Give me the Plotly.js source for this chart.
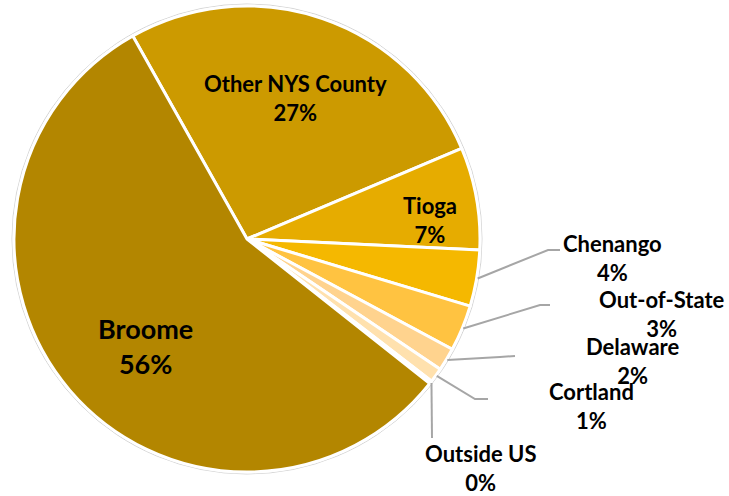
<!DOCTYPE html>
<html>
<head>
<meta charset="utf-8">
<script src="https://cdn.plot.ly/plotly-3.0.1.min.js"></script>
<style>html,body{margin:0;padding:0;background:#fff;}#chart{width:729px;height:496px;}</style>
</head>
<body>
<div id="chart"></div>
<script>
// ---- data ----
const labels = ["Other NYS County", "Tioga", "Chenango", "Out-of-State", "Delaware", "Cortland", "Outside US", "Broome"];
const values = [26.8, 7.1, 3.9, 3.2, 1.6, 1.0, 0.2, 56.2];
const colors = ["#CC9A00", "#E6AC00", "#F5B800", "#FFC341", "#FFD38E", "#FFE1AE", "#FFEBC8", "#B38600"];

// ---- layout config (pixels) ----
const W = 729, H = 496;
const cx = 247, cy = 239, R = 233;
const rotation = -29.35;
// label block centres
const labelPos = [[295, 98], [430, 220], [612, 258], [662, 314], [632, 361], [591, 406], [480, 468], [145, 346]];
const labelSize = [22, 22, 22, 22, 22, 22, 22, 27];
// leader-line elbow & end points (null = inside label)
const leader = [null, null,
  [[548, 250], [560, 250]],
  [[540, 305], [550, 305]],
  [[500, 357], [515, 356]],
  [[475, 399], [488, 399]],
  [[432, 438]],
  null];

const px = x => x / W;
const py = y => 1 - y / H;

const total = values.reduce((a, b) => a + b, 0);
let acc = rotation;
const mids = values.map(v => { const span = v / total * 360; const m = acc + span / 2; acc += span; return m; });

const annotations = labels.map((l, i) => ({
  text: l + "<br>" + Math.round(values[i] / total * 100) + "%",
  x: px(labelPos[i][0]), y: py(labelPos[i][1]), xref: "paper", yref: "paper",
  xanchor: "center", yanchor: "middle", showarrow: false, align: "center",
  font: {family: "Lato, 'DejaVu Sans', sans-serif", size: labelSize[i], color: "#000", weight: 700}
}));

const shapes = [{
  type: "circle", xref: "paper", yref: "paper",
  x0: px(cx - R - 2), x1: px(cx + R + 2), y0: py(cy + R + 2), y1: py(cy - R - 2),
  line: {color: "#D4D4D4", width: 1}, layer: "below"
}];
leader.forEach((pts, i) => {
  if (!pts) return;
  const a = mids[i] * Math.PI / 180;
  const sx = cx + (R + 1) * Math.sin(a), sy = cy - (R + 1) * Math.cos(a);
  let path = "M " + px(sx) + "," + py(sy);
  pts.forEach(p => { path += " L " + px(p[0]) + "," + py(p[1]); });
  shapes.push({type: "path", xref: "paper", yref: "paper", path: path, line: {color: "#A6A6A6", width: 2}});
});

const trace = {
  type: "pie", labels: labels, values: values, sort: false, direction: "clockwise",
  rotation: rotation, textinfo: "none", hoverinfo: "none",
  marker: {colors: colors, line: {color: "#FFFFFF", width: 3}},
  domain: {x: [px(cx - R), px(cx + R)], y: [py(cy + R), py(cy - R)]}
};

Plotly.newPlot("chart", [trace], {
  width: W, height: H, margin: {l: 0, r: 0, t: 0, b: 0},
  paper_bgcolor: "#fff", plot_bgcolor: "#fff", showlegend: false,
  annotations: annotations, shapes: shapes
}, {displayModeBar: false, staticPlot: true});
</script>
</body>
</html>
